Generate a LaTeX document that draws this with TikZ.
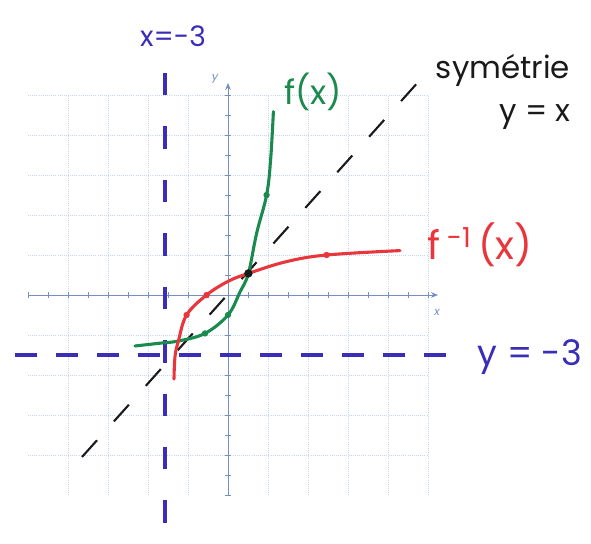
\documentclass[tikz,border=0pt]{standalone}
\usepackage{fontspec}
\setmainfont{Poppins}
\usetikzlibrary{arrows.meta,positioning,calc}
\definecolor{gridblue}{HTML}{C4D7F0}
\definecolor{axisblue}{HTML}{7590C0}
\definecolor{asymblue}{HTML}{3A2DB8}
\definecolor{curvegreen}{HTML}{1B8A4E}
\definecolor{curvered}{HTML}{E8363C}
\definecolor{symblack}{HTML}{1A1A1A}
\begin{document}
\begin{tikzpicture}[
    x=0.5cm, y=0.5cm,
    gridline/.style={gridblue, line width=0.5pt, densely dotted},
    axisline/.style={axisblue, line width=0.7pt, -{Stealth[length=5pt,width=4pt]}},
    tickline/.style={axisblue, line width=0.5pt},
    axislabel/.style={text=axisblue, font=\footnotesize\itshape, inner sep=1pt},
    asym/.style={asymblue, line width=2.8pt, dash pattern=#1},
    curve/.style={line width=2.2pt, line cap=round, color=#1},
    dotmark/.style={circle, fill=#1, inner sep=0pt, minimum size=4.5pt},
    handlabel/.style={font=\fontsize{22}{24}\selectfont, text=#1, inner sep=0pt},
]

% Page frame, same margins as the sheet
\useasboundingbox (-11.4,-12.45) rectangle (18.15,14.75);

% Graph paper and axes
\draw[gridline] (-10,-10) grid (10,10);
\foreach \t in {-10,...,10} {
    \draw[tickline] (\t,-0.15) -- (\t,0.15);
    \draw[tickline] (-0.15,\t) -- (0.15,\t);
}
\draw[axisline] (-10,0) -- (10.5,0);
\draw[axisline] (0,-10) -- (0,10.6);
\node[axislabel] (xlab) at (10.45,-0.85) {x};
\node[axislabel] (ylab) at (-0.65,10.8) {y};

% Asymptotes
\draw[asym={on 15.6pt off 13.5pt}] (-10.65,-3) -- (11.2,-3);
\draw[asym={on 16pt off 22pt}] (-3.15,11.1) -- (-3.15,-12.45);

% Axis of symmetry
\draw[symblack, line width=1.5pt, dash pattern=on 16pt off 18pt]
    (-7.3,-8.1) -- (9.6,10.75);

% f(x)
\draw[curve=curvegreen] plot[smooth, tension=0.6] coordinates {
    (-4.65,-2.55) (-3.5,-2.42) (-2.48,-2.3) (-1.15,-1.92) (0,-1)
    (0.6,0.15) (1.02,1.08) (1.43,3.08) (1.93,5) (2.13,6.75) (2.27,9.17)};

% f^-1(x)
\draw[curve=curvered] plot[smooth, tension=0.6] coordinates {
    (-2.7,-4.2) (-2.65,-3.08) (-2.48,-2.3) (-2.07,-1) (-1.07,0)
    (0,0.68) (1.02,1.08) (2.93,1.67) (4.93,2) (8.6,2.22)};

% Plotted points
\node[dotmark=curvegreen] (g1) at (-1.15,-1.92) {};
\node[dotmark=curvegreen] (g2) at (0,-1) {};
\node[dotmark=curvegreen] (g3) at (1.93,5) {};
\node[dotmark=curvered] (r1) at (-2.07,-1) {};
\node[dotmark=curvered] (r2) at (-1.07,0) {};
\node[dotmark=curvered] (r3) at (4.93,2) {};
\node[dotmark=symblack, minimum size=6pt] (meet) at (1.02,1.08) {};

% Labels
\node[handlabel=asymblue, font=\fontsize{20}{22}\selectfont] (xasym) at (-2.75,12.95) {x=-3};
\node[handlabel=curvegreen, font=\fontsize{24}{26}\selectfont] (fxlab) at (4.25,10.15) {f(x)};
\node[handlabel=symblack] (symlab) at (13.75,11.25) {symétrie};
\node[handlabel=symblack] (yxlab) at (15.35,8.9) {y = x};
\node[handlabel=curvered, font=\fontsize{28}{30}\selectfont] (finvlab) at (12.6,2.5) {f\,\textsuperscript{-1}\,(x)};
\node[handlabel=asymblue, font=\fontsize{25}{27}\selectfont] (yasym) at (15.1,-3.1) {y = -3};

\end{tikzpicture}
\end{document}
